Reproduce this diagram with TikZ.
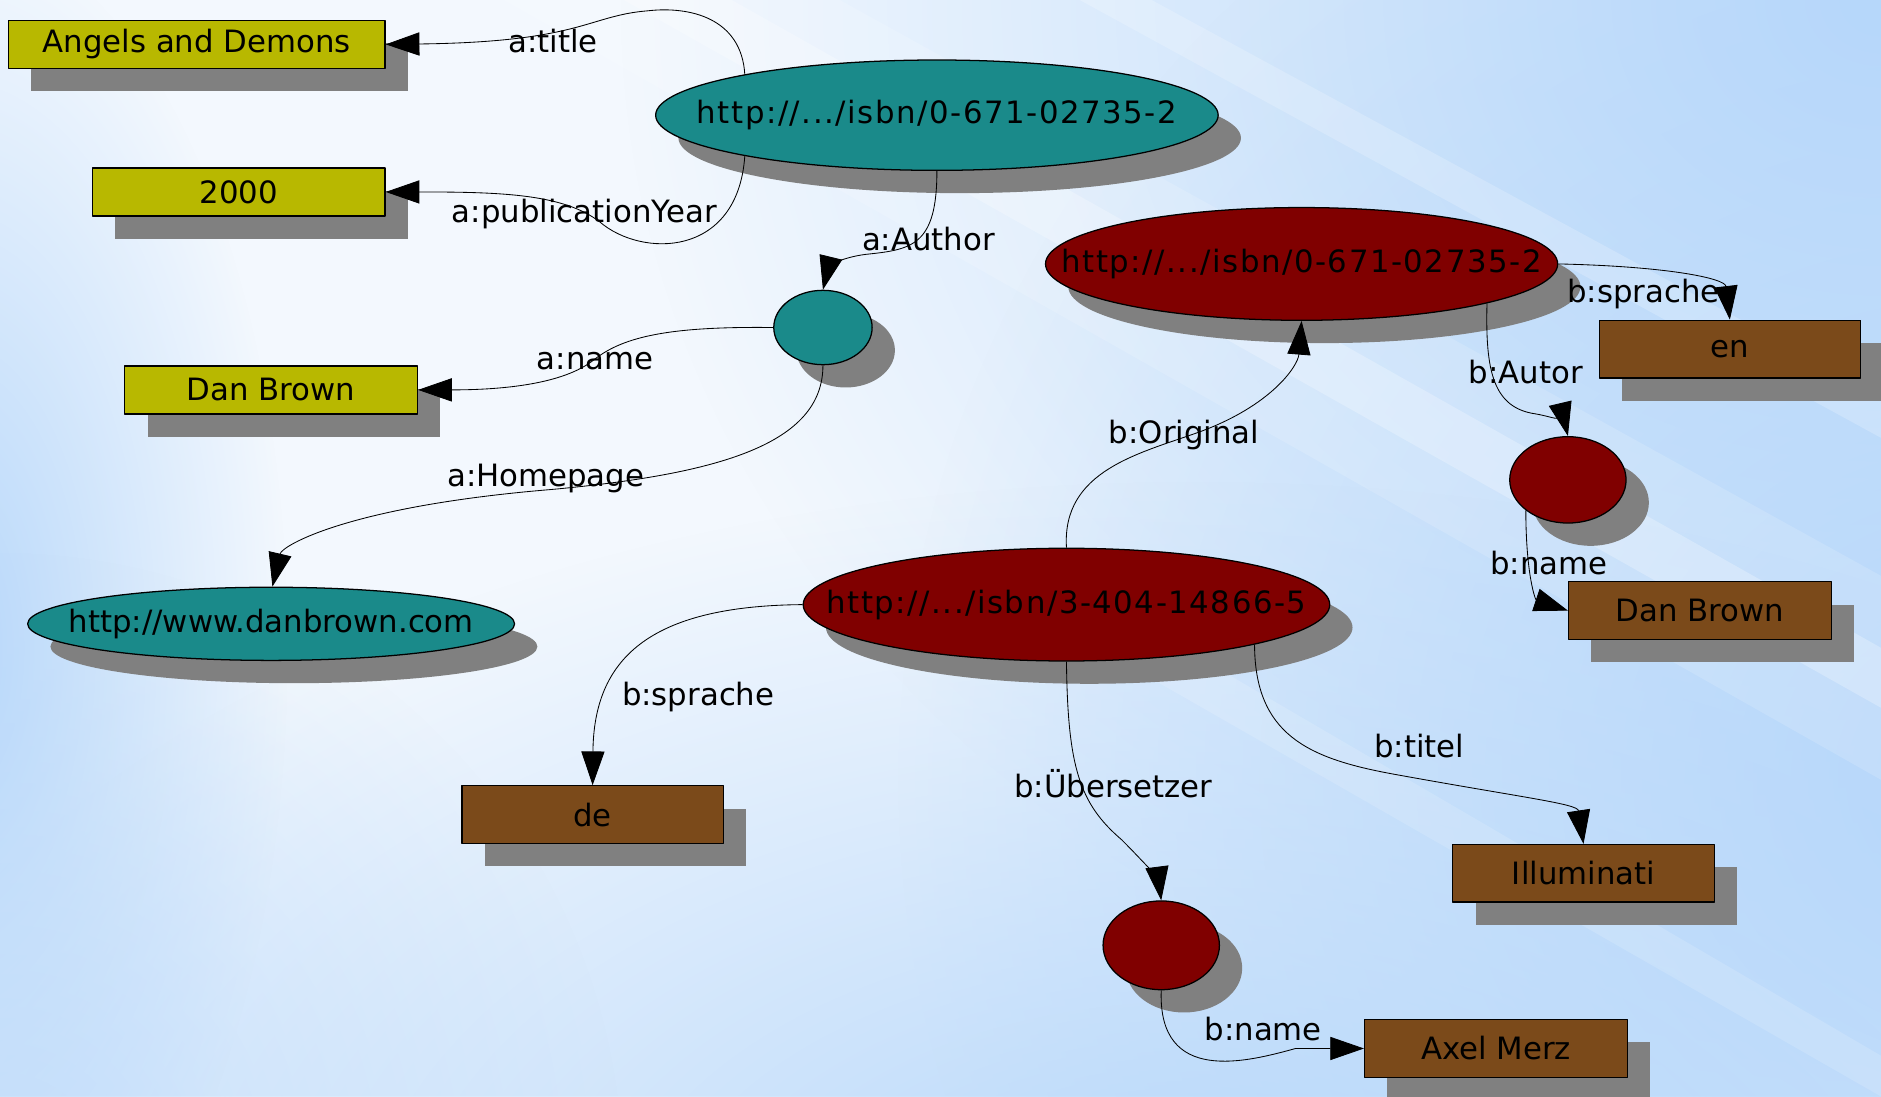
\documentclass[tikz,border=0pt]{standalone}
\usepackage{fontspec}
\setmainfont{DejaVu Sans}
\usetikzlibrary{arrows.meta,shapes.geometric,shadows,fadings}
\definecolor{litA}{RGB}{184,184,0}
\definecolor{resA}{RGB}{26,138,138}
\definecolor{resB}{RGB}{128,0,0}
\definecolor{litB}{RGB}{123,74,26}
\definecolor{shadowgray}{RGB}{128,128,128}
\definecolor{bgpale}{RGB}{243,248,254}
\definecolor{bgblue}{RGB}{182,215,250}
\tikzfading[name=blobfade, inner color=transparent!0, outer color=transparent!100]
\newcommand{\uri}[1]{\makebox[0pt]{\addfontfeature{LetterSpace=5}#1}}
\begin{document}
\begin{tikzpicture}[
	x=0.02cm,
	y=-0.02cm,
	line join=round,
	>={Triangle[length=16pt,width=11pt]},
	every node/.style={font=\fontsize{14.6}{17.5}\selectfont},
	dropsh/.style={drop shadow={shadow xshift=.38cm,shadow yshift=-.38cm,opacity=1,fill=shadowgray}},
	lit/.style={rectangle, draw, line width=.6pt, fill=#1, dropsh, inner sep=0pt},
	res/.style={ellipse, draw, line width=.6pt, fill=#1, dropsh, inner sep=0pt},
	prop/.style={inner sep=1pt},
	]
% background
\useasboundingbox (0,0) rectangle (1568,914);
\begin{scope}
\clip (0,0) rectangle (1568,914);
\fill[bgpale] (0,0) rectangle (1568,914);
\fill[bgblue, path fading=blobfade] (1568,0) ellipse (1050 and 900);
\fill[bgblue, path fading=blobfade] (1650,650) circle (900);
\fill[bgblue, path fading=blobfade] (1000,1050) ellipse (1150 and 650);
\fill[bgblue, path fading=blobfade] (-40,540) ellipse (280 and 600);
\fill[bgblue, path fading=blobfade, opacity=.6] (0,980) circle (520);
\fill[white, opacity=.15] (420,0) -- (700,0) -- (1568,480) -- (1568,650) -- cycle;
\fill[white, opacity=.25] (520,0) -- (610,0) -- (1568,540) -- (1568,590) -- cycle;
\fill[white, opacity=.2] (900,0) -- (960,0) -- (1568,330) -- (1568,365) -- cycle;
\fill[white, opacity=.15] (950,560) -- (1020,560) -- (1568,880) -- (1568,914) -- cycle;
\end{scope}
% dataset a
\node[res=resA, minimum width=9.38cm, minimum height=1.84cm] (bookA) at (781,96) {\uri{http://.../isbn/0-671-02735-2}};
\node[lit=litA, minimum width=6.28cm, minimum height=.8cm] (titleA) at (164,37) {Angels and Demons};
\node[lit=litA, minimum width=4.88cm, minimum height=.8cm] (yearA) at (199,160) {2000};
\node[res=resA, minimum width=1.64cm, minimum height=1.24cm] (authA) at (686,273) {};
\node[lit=litA, minimum width=4.88cm, minimum height=.8cm] (nameA) at (226,325) {Dan Brown};
\node[res=resA, minimum width=8.12cm, minimum height=1.22cm] (homeA) at (226,520) {\makebox[0pt]{http://www.danbrown.com}};
% dataset b
\node[res=resB, minimum width=8.54cm, minimum height=1.88cm] (origB) at (1085,220) {\uri{http://.../isbn/0-671-02735-2}};
\node[lit=litB, minimum width=4.36cm, minimum height=.96cm] (langO) at (1442,291) {en};
\node[res=resB, minimum width=1.94cm, minimum height=1.44cm] (authB) at (1307,400) {};
\node[lit=litB, minimum width=4.38cm, minimum height=.96cm] (nameB) at (1417,509) {Dan Brown};
\node[res=resB, minimum width=8.78cm, minimum height=1.88cm] (transB) at (889,504) {\uri{http://.../isbn/3-404-14866-5}};
\node[lit=litB, minimum width=4.36cm, minimum height=.96cm] (langT) at (494,679) {de};
\node[lit=litB, minimum width=4.36cm, minimum height=.96cm] (titleB) at (1320,728) {Illuminati};
\node[res=resB, minimum width=1.94cm, minimum height=1.48cm] (trnsl) at (968,788) {};
\node[lit=litB, minimum width=4.38cm, minimum height=.96cm] (nameT) at (1247,874) {Axel Merz};
% edges a
\draw[->] (bookA.168) .. controls (618,15) and (575,5) .. (540,9) .. controls (490,13) and (485,35) .. (titleA.east);
\draw[->] (bookA.192) .. controls (615,215) and (535,215) .. (500,185) .. controls (470,162) and (420,160) .. (yearA.east);
\draw[->] (bookA.south) .. controls (781,205) and (760,208) .. (722,212) .. controls (697,215) and (690,225) .. (authA.north);
\draw[->] (authA.west) .. controls (560,272) and (520,280) .. (495,300) .. controls (470,320) and (420,325) .. (nameA.east);
\draw[->] (authA.south) .. controls (686,370) and (600,395) .. (460,408) .. controls (290,422) and (235,455) .. (homeA.88);
% edges b
\draw[->] (transB.north) .. controls (885,392) and (950,378) .. (1000,360) .. controls (1060,338) and (1082,305) .. (origB.south);
\draw[->] (origB.east) .. controls (1390,222) and (1438,232) .. (langO.north);
\draw[->] (origB.-12) .. controls (1238,310) and (1245,340) .. (1280,345) .. controls (1298,348) and (1305,355) .. (authB.north);
\draw[->] (authB.216) .. controls (1272,480) and (1280,500) .. (nameB.west);
\draw[->] (transB.west) .. controls (540,505) and (495,550) .. (langT.north);
\draw[->] (transB.south) .. controls (890,640) and (900,670) .. (935,700) .. controls (960,725) and (966,735) .. (trnsl.north);
\draw[->] (transB.-12) .. controls (1046,612) and (1090,632) .. (1160,645) .. controls (1270,665) and (1315,670) .. (titleB.north);
\draw[->] (trnsl.south) .. controls (965,905) and (1040,885) .. (1080,874) -- (nameT.west);
% labels
\node[prop] (ltitle) at (461,34) {a:title};
\node[prop] (lyear) at (487,178) {a:publicationYear};
\node[prop] (lauth) at (774,199) {a:Author};
\node[prop] (lname) at (496,301) {a:name};
\node[prop] (lhome) at (455,399) {a:Homepage};
\node[prop] (lorig) at (987,363) {b:Original};
\node[prop] (llangO) at (1370,245) {b:sprache};
\node[prop] (lautor) at (1272,310) {b:Autor};
\node[prop] (lnameB) at (1291,469) {b:name};
\node[prop] (llangT) at (582,581) {b:sprache};
\node[prop] (ltrans) at (928,653) {b:Übersetzer};
\node[prop] (ltitel) at (1183,622) {b:titel};
\node[prop] (lnameT) at (1053,858) {b:name};
\end{tikzpicture}
\end{document}
